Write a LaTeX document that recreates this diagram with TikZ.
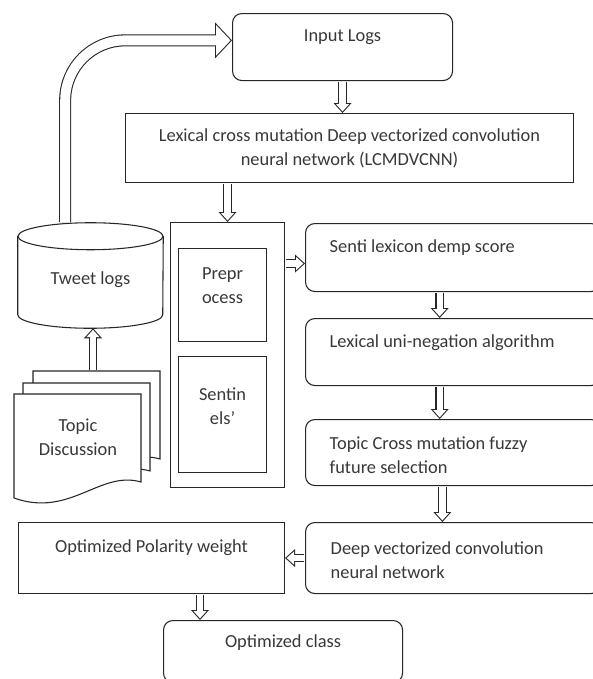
\documentclass[tikz,border=0pt]{standalone}
\usepackage{fontspec}
\setmainfont{Carlito}
\usepackage{tikz}
\usetikzlibrary{arrows.meta, positioning, calc}

\colorlet{ink}{black!78}
\newcommand{\blockarrow}[3]{\draw[#1] #3; \draw[#2] #3;}

\tikzset{
  every node/.style={font=\fontsize{13.8}{18}\selectfont, text=ink},
  sqbox/.style={draw=black!85, line width=0.8pt, anchor=north west, inner sep=0pt},
  rbox/.style={sqbox, rounded corners=7pt},
  rim/.style={black!85, line width=6.4pt, shorten <=0.4pt,
    -{Triangle[length=7.5pt,width=13.5pt,line width=0pt]}},
  core/.style={white, line width=4.8pt, shorten <=0.4pt, shorten >=1.2pt,
    -{Triangle[length=5.5pt,width=9.9pt,line width=0pt]}},
  bigrim/.style={black!85, line width=9pt, rounded corners=45pt, shorten <=0.4pt,
    -{Triangle[length=12.75pt,width=27pt,line width=0pt]}},
  bigcore/.style={white, line width=7.4pt, rounded corners=45pt, shorten <=0.4pt, shorten >=1.1pt,
    -{Triangle[length=10.85pt,width=23pt,line width=0pt]}}
}

\begin{document}
\begin{tikzpicture}[x=0.75pt, y=-0.75pt]
  \clip (0,0) rectangle (593,679);

  % top of the chain
  \node[rbox, minimum width=165pt, minimum height=50.25pt] (input) at (232,13) {};
  \node (inputtxt) at ([yshift=-18pt]input.north) {Input Logs};
  \node[sqbox, align=center, minimum width=336pt, minimum height=51.75pt] (lcm) at (125,113)
    {Lexical cross mutation Deep vectorized convolution\\neural network (LCMDVCNN)};

  % middle block with its two parts
  \node[sqbox, minimum width=85.5pt, minimum height=198.75pt] (mid) at (170,222) {};
  \node[sqbox, minimum width=66pt, minimum height=69.75pt] (prep) at (178,248) {};
  \node[align=center] (preptxt) at ([yshift=-28pt]prep.north) {Prepr\\ocess};
  \node[sqbox, minimum width=66pt, minimum height=87pt] (sent) at (178,356) {};
  \node[align=center] (senttxt) at ([yshift=-37.5pt]sent.north) {Sentin\\els’};

  % right column
  \node[rbox, minimum width=221.25pt, minimum height=51pt] (senti) at (305,223) {};
  \node[anchor=west] (sentitxt) at ([xshift=15pt,yshift=-18.75pt]senti.north west) {Senti lexicon demp score};
  \node[rbox, minimum width=221.25pt, minimum height=50.25pt] (neg) at (305,318) {};
  \node[anchor=west] (negtxt) at ([xshift=15pt,yshift=-18.75pt]neg.north west) {Lexical uni-negation algorithm};
  \node[rbox, minimum width=221.25pt, minimum height=49.5pt] (fuzzy) at (305,419) {};
  \node[anchor=west, align=left] (fuzzytxt) at ([xshift=15pt,yshift=-27pt]fuzzy.north west)
    {Topic Cross mutation fuzzy\\future selection};
  \node[rbox, minimum width=221.25pt, minimum height=53.25pt] (deep) at (305,522) {};
  \node[anchor=west, align=left] (deeptxt) at ([xshift=15.75pt,yshift=-28.5pt]deep.north west)
    {Deep vectorized convolution\\neural network};

  % bottom
  \node[sqbox, minimum width=199.5pt, minimum height=53.25pt] (polar) at (18,522) {};
  \node (polartxt) at ([yshift=-19.5pt]polar.north) {Optimized Polarity weight};
  \node[rbox, minimum width=179.25pt, minimum height=46.5pt] (class) at (163,620) {};
  \node (classtxt) at ([yshift=-17.25pt]class.north) {Optimized class};

  % tweet logs store
  \node[minimum width=108.75pt, minimum height=78.75pt, inner sep=0pt] (tweet) at (90.5,275.5) {};
  \node (tweettxt) at ([yshift=-3.4pt]tweet.center) {Tweet logs};
  \draw[black!85, line width=0.8pt] ([yshift=-10.125pt]tweet.north)
    ellipse [x radius=54.375pt, y radius=10.125pt];
  \draw[black!85, line width=0.8pt] ([yshift=-10.125pt]tweet.north west)
    -- ([yshift=10.125pt]tweet.south west)
    arc[start angle=180, end angle=360, x radius=54.375pt, y radius=10.125pt]
    -- ([yshift=-10.125pt]tweet.north east);

  % stacked documents
  \foreach \dx/\dy in {19/-23, 9/-11, 0/0}
    \draw[black!85, line width=0.8pt, fill=white, shift={(\dx,\dy)}]
      (14,394) -- (141,394) -- (141,482) .. controls (100,470) and (70,518) .. (14,498) -- cycle;
  \node[align=center] (topic) at (78,437) {Topic\\Discussion};
  \coordinate (stacktop) at (93,371);

  % block arrows
  \blockarrow{bigrim}{bigcore}{([xshift=-19pt]tweet.north) |- ([yshift=5pt]input.west)}
  \blockarrow{rim}{core}{(stacktop) -- (stacktop |- tweet.south)}
  \blockarrow{rim}{core}{(input.south) -- (input.south |- lcm.north)}
  \blockarrow{rim}{core}{(mid.north |- lcm.south) -- (mid.north)}
  \coordinate (m1) at ([yshift=-4.5pt]senti.west);
  \blockarrow{rim}{core}{(m1 -| mid.east) -- (m1)}
  \coordinate (r1) at ([xshift=-10pt]senti.south);
  \blockarrow{rim}{core}{(r1) -- (r1 |- neg.north)}
  \coordinate (r2) at ([xshift=-10pt]neg.south);
  \blockarrow{rim}{core}{(r2) -- (r2 |- fuzzy.north)}
  \coordinate (r3) at ([xshift=-8pt]fuzzy.south);
  \blockarrow{rim}{core}{(r3) -- (r3 |- deep.north)}
  \blockarrow{rim}{core}{(deep.west) -- (deep.west -| polar.east)}
  \coordinate (c1) at ([xshift=27.75pt]class.north west);
  \blockarrow{rim}{core}{(c1 |- polar.south) -- (c1)}
\end{tikzpicture}
\end{document}
